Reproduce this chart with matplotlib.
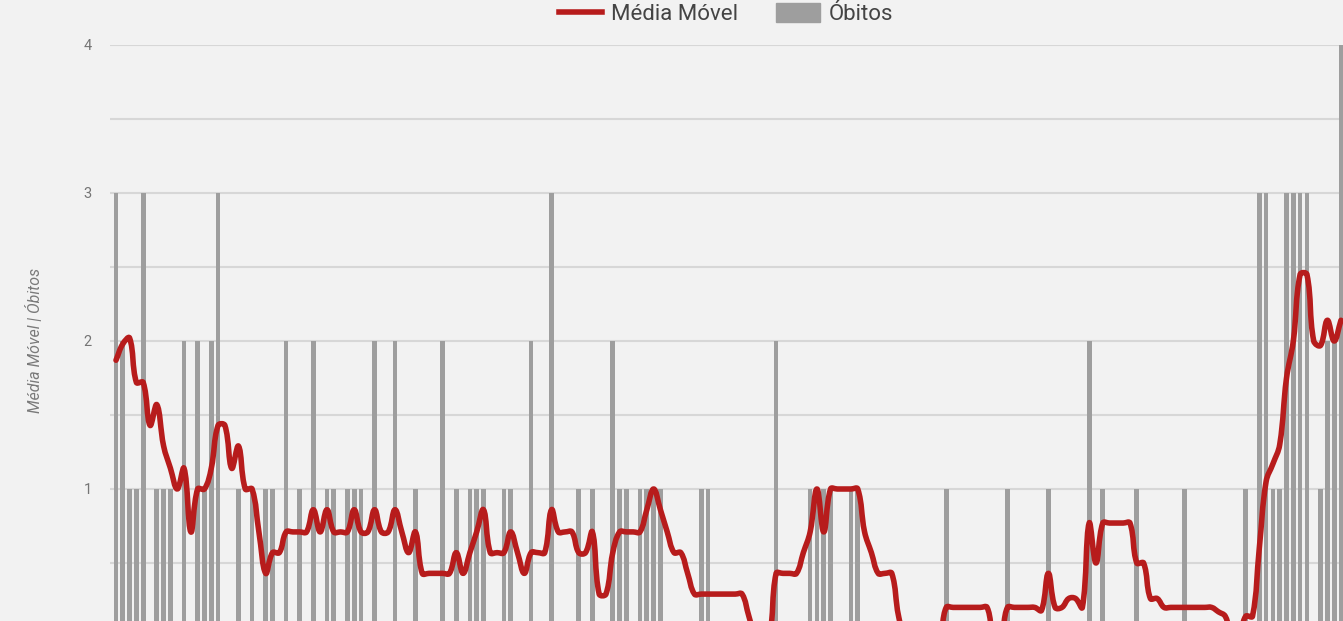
import matplotlib
matplotlib.use("Agg")
import matplotlib.pyplot as plt
from matplotlib.lines import Line2D
from matplotlib.patches import Patch, PathPatch
from matplotlib.path import Path
from matplotlib.ticker import FixedLocator
import numpy as np

plt.rcParams['font.family'] = ['Roboto', 'DejaVu Sans']

# dias com óbitos registrados (índice do dia) e quantidade
obitos_dias = [0, 1, 2, 3, 4, 6, 7, 8, 10, 12, 13, 14, 15, 18, 20, 22, 23, 25, 27,
               29, 31, 32, 34, 35, 36, 38, 41, 44, 48, 50, 52, 53, 54, 57, 58, 61,
               64, 68, 70, 73, 74, 75, 77, 78, 79, 80, 86, 87, 97, 102, 103, 104,
               105, 108, 109, 122, 131, 137, 143, 145, 150, 157, 166, 168, 169,
               170, 171, 172, 173, 174, 175, 177, 178, 179, 180]
obitos_valores = [3, 2, 1, 1, 3, 1, 1, 1, 2, 2, 1, 2, 3, 1, 1, 1, 1, 2, 1,
                  2, 1, 1, 1, 1, 1, 2, 2, 1, 2, 1, 1, 1, 1, 1, 1, 2,
                  3, 1, 1, 2, 1, 1, 1, 1, 1, 1, 1, 1, 2, 1, 1, 1,
                  1, 1, 1, 1, 1, 1, 2, 1, 1, 1, 1, 3, 3,
                  1, 1, 3, 3, 3, 3, 1, 2, 2, 4]

# média móvel, um valor por dia
media_movel = [
    1.87, 1.98, 2.02, 1.72, 1.72, 1.43, 1.57, 1.29, 1.14, 1.00,
    1.14, 0.71, 1.00, 1.00, 1.14, 1.43, 1.43, 1.14, 1.29, 1.00,
    1.00, 0.71, 0.43, 0.57, 0.57, 0.71, 0.71, 0.71, 0.71, 0.86,
    0.71, 0.86, 0.71, 0.71, 0.71, 0.86, 0.71, 0.71, 0.86, 0.71,
    0.71, 0.86, 0.71, 0.57, 0.71, 0.43, 0.43, 0.43, 0.43, 0.43,
    0.57, 0.43, 0.57, 0.71, 0.86, 0.57, 0.57, 0.57, 0.71, 0.57,
    0.43, 0.57, 0.57, 0.57, 0.86, 0.71, 0.71, 0.71, 0.57, 0.57,
    0.71, 0.29, 0.29, 0.57, 0.71, 0.71, 0.71, 0.71, 0.86, 1.00,
    0.86, 0.71, 0.57, 0.57, 0.43, 0.29, 0.29, 0.29, 0.29, 0.29,
    0.29, 0.29, 0.29, 0.14, 0.00, 0.00, 0.00, 0.43, 0.43, 0.43,
    0.43, 0.57, 0.71, 1.00, 0.71, 1.00, 1.00, 1.00, 1.00, 1.00,
    0.71, 0.57, 0.43, 0.43, 0.43, 0.14, 0.00, 0.00, 0.00, 0.00,
    0.00, 0.00, 0.20, 0.20, 0.20, 0.20, 0.20, 0.20, 0.20, 0.00,
    0.00, 0.20, 0.20, 0.20, 0.20, 0.20, 0.18, 0.43, 0.20, 0.20,
    0.26, 0.26, 0.20, 0.77, 0.50, 0.77, 0.77, 0.77, 0.77, 0.77,
    0.50, 0.50, 0.26, 0.26, 0.20, 0.20, 0.20, 0.20, 0.20, 0.20,
    0.20, 0.20, 0.17, 0.14, 0.00, 0.00, 0.14, 0.14, 0.60, 1.05,
    1.17, 1.30, 1.75, 2.00, 2.45, 2.45, 2.00, 1.97, 2.14, 2.00,
    2.14,
]

y_ticks = [1, 2, 3, 4]
y_labels = ['1', '2', '3', '4']

dias = np.arange(len(media_movel))
obitos = np.zeros(len(media_movel))
obitos[obitos_dias] = obitos_valores

BG = '#f2f2f2'
RED = '#b71c1c'
GRAY = '#9e9e9e'
LW = 4.0


def curva_suave(ax, x, y, tension=0.4):
    # mesma curva bezier que o chart.js desenha entre os pontos
    pts = ax.transData.transform(np.column_stack([x, y]))
    n = len(pts)
    cin = pts.copy()
    cout = pts.copy()
    for i in range(n):
        p0 = pts[max(i - 1, 0)]
        p1 = pts[i]
        p2 = pts[min(i + 1, n - 1)]
        d01 = np.hypot(*(p1 - p0))
        d12 = np.hypot(*(p2 - p1))
        tot = d01 + d12
        if tot == 0:
            continue
        cin[i] = p1 - tension * d01 / tot * (p2 - p0)
        cout[i] = p1 + tension * d12 / tot * (p2 - p0)
    verts = [pts[0]]
    codes = [Path.MOVETO]
    for i in range(1, n):
        verts += [cout[i - 1], cin[i], pts[i]]
        codes += [Path.CURVE4] * 3
    verts = ax.transData.inverted().transform(np.array(verts))
    return Path(verts, codes)


fig = plt.figure(figsize=(13.43, 6.21), dpi=100, facecolor=BG)
# o gráfico original está cortado embaixo: o eixo continua abaixo da imagem
ax = fig.add_axes([110 / 1343, -16 / 621, 1233 / 1343, 592 / 621])
ax.set_facecolor(BG)
ax.set_xlim(-0.88, 180.3)
ax.set_ylim(0, 4)

ax.bar(dias, obitos, width=0.69, color=GRAY, zorder=2)
ax.add_patch(PathPatch(curva_suave(ax, dias, media_movel), fill=False,
                       edgecolor=RED, lw=LW, zorder=3, joinstyle='round',
                       capstyle='round'))

ax.yaxis.set_major_locator(FixedLocator(y_ticks))
ax.yaxis.set_minor_locator(FixedLocator([0.5, 1.5, 2.5, 3.5]))
ax.set_yticklabels(y_labels)
ax.grid(which='both', axis='y', color='#d7d7d7', lw=1.5)
ax.set_axisbelow(True)
ax.tick_params(axis='y', which='both', length=0, pad=13, labelsize=10.5,
               labelcolor='#757575')
ax.set_xticks([])
for s in ax.spines.values():
    s.set_visible(False)

fig.text(35 / 1343, 1 - 340 / 621, 'Média Móvel | Óbitos', rotation=90,
         style='italic', color='#7a7a7a', fontsize=11.5, ha='center', va='center')

handles = [Line2D([0], [0], color=RED, lw=LW), Patch(color=GRAY)]
fig.legend(handles, ['Média Móvel', 'Óbitos'], loc='center',
           bbox_to_anchor=(726 / 1343, 1 - 14 / 621), ncol=2, frameon=False,
           fontsize=16, handlelength=1.95, handleheight=0.9, handletextpad=0.4,
           columnspacing=1.7, labelcolor='#444444')

fig.savefig('out.png', dpi=100, facecolor=BG)
